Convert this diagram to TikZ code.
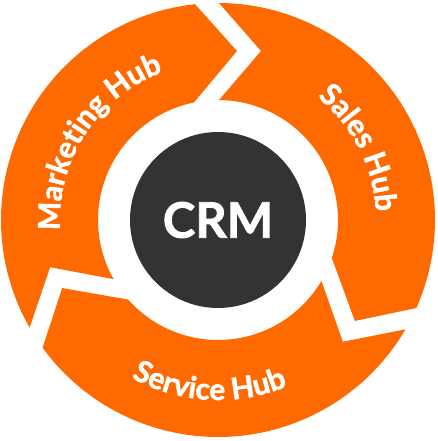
\documentclass[tikz,border=0pt]{standalone}
\usepackage{fontspec}
\setmainfont{Lato}
\newfontfamily\heavyfam{Lato}[BoldFeatures={FakeBold=1.6}]
\usetikzlibrary{decorations.text}
\definecolor{hubOrange}{HTML}{FF6A00}
\definecolor{crmGrey}{HTML}{333333}
\newcommand{\hubfont}{\heavyfam\bfseries\fontsize{30}{35}\selectfont\color{white}}
\tikzset{
  hub/.style={fill=hubOrange},
  hublabel/.style={decorate, decoration={text along path, text align=center, text={|\hubfont|#1}}},
  crm/.style={circle, fill=crmGrey, minimum size=176pt, inner sep=0pt, text=white, font=\heavyfam\bfseries\fontsize{49}{58}\selectfont}
}
\begin{document}
\begin{tikzpicture}[x=1pt,y=1pt]
  \useasboundingbox (-218,-221) rectangle (219,220);
  \foreach \turn in {0,-120,120}
    \fill[hub, rotate=\turn] (209.74:217) arc[start angle=209.74, end angle=96.06, radius=217] -- (83.59:170.06) -- (101.54:120) arc[start angle=101.54, end angle=209.52, radius=120] -- (195.72:174.38) -- cycle;
  \path[hublabel=Marketing Hub] (197:158) arc[start angle=197, end angle=97, radius=158];
  \path[hublabel=Sales Hub] (77:158) arc[start angle=77, end angle=-23, radius=158];
  \path[hublabel=Service Hub] (217:180) arc[start angle=217, end angle=317, radius=180];
  \node[crm] (crm) at (0,0) {CRM};
\end{tikzpicture}
\end{document}
